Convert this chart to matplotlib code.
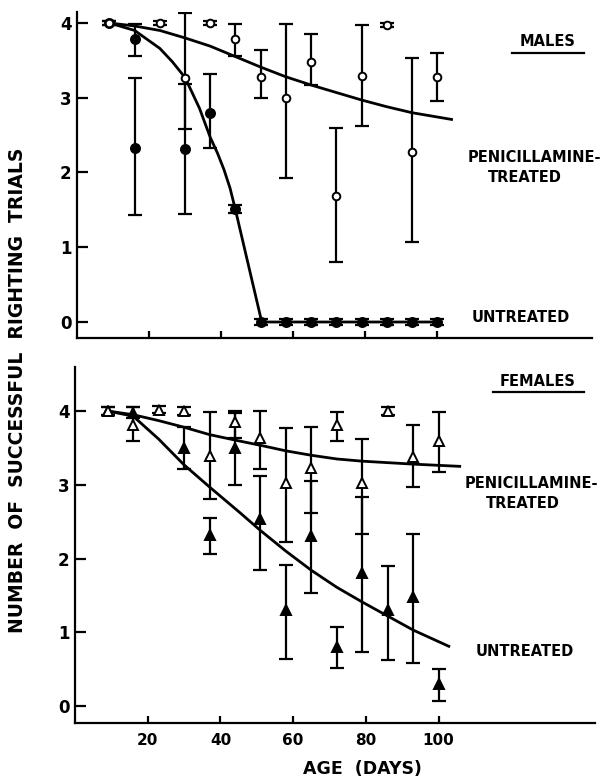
import matplotlib
matplotlib.use("Agg")
import matplotlib.pyplot as plt
import numpy as np
from matplotlib.lines import Line2D

# ---------------- data ----------------
x_ticks = [20, 40, 60, 80, 100]
y_ticks = [0, 1, 2, 3, 4]

# Males, penicillamine-treated (open circles)
m_tr_days = [9, 23, 30, 37, 44, 51, 58, 65, 72, 79, 86, 93, 100]
m_tr_y    = [4.0, 4.0, 3.27, 4.0, 3.78, 3.28, 2.99, 3.48, 1.69, 3.29, 3.97, 2.28, 3.28]
m_tr_hi   = [4.03, 4.03, 4.13, 4.03, 3.99, 3.64, 3.99, 3.85, 2.60, 3.97, 4.00, 3.53, 3.60]
m_tr_lo   = [3.97, 3.97, 2.58, 3.97, 3.56, 2.99, 1.93, 3.17, 0.80, 2.62, 3.94, 1.07, 2.96]

# Males, untreated (filled circles)
m_un_days = [9, 16, 16, 30, 37, 44, 51, 58, 65, 72, 79, 86, 93, 100]
m_un_y    = [4.0, 3.79, 2.33, 2.31, 2.79, 1.51, 0, 0, 0, 0, 0, 0, 0, 0]
m_un_hi   = [4.03, 3.99, 3.27, 3.19, 3.32, 1.56, 0.04, 0.04, 0.04, 0.04, 0.04, 0.04, 0.04, 0.04]
m_un_lo   = [3.97, 3.56, 1.43, 1.45, 2.33, 1.46, -0.04, -0.04, -0.04, -0.04, -0.04, -0.04, -0.04, -0.04]

# Males fitted curves
m_tr_curve_x = [9, 16, 23, 30, 37, 44, 51, 58, 65, 72, 79, 86, 93, 104]
m_tr_curve_y = [4.0, 3.96, 3.9, 3.8, 3.69, 3.55, 3.41, 3.28, 3.17, 3.07, 2.97, 2.88, 2.8, 2.71]
m_un_curve_x = [9, 16, 23, 26.5, 30, 34, 37, 39, 40.8, 42.5, 44, 51.3, 100]
m_un_curve_y = [4.0, 3.9, 3.66, 3.48, 3.27, 2.86, 2.47, 2.26, 2.04, 1.79, 1.5, 0.0, 0.0]

# Females, penicillamine-treated (open triangles)
f_tr_days = [9, 16, 23, 30, 37, 44, 51, 58, 65, 72, 79, 86, 93, 100]
f_tr_y    = [4.0, 3.81, 4.01, 4.0, 3.39, 3.85, 3.63, 3.02, 3.23, 3.81, 3.02, 4.0, 3.38, 3.6]
f_tr_hi   = [4.05, 4.05, 4.07, 4.05, 3.99, 4.0, 4.0, 3.77, 3.78, 3.99, 3.62, 4.05, 3.81, 3.99]
f_tr_lo   = [3.95, 3.6, 3.97, 3.95, 2.81, 3.63, 3.22, 2.22, 2.62, 3.6, 2.33, 3.95, 2.97, 3.17]

# Females, untreated (filled triangles)
f_un_days = [9, 16, 30, 37, 44, 51, 58, 65, 72, 79, 86, 93, 100]
f_un_y    = [4.0, 3.97, 3.5, 2.32, 3.5, 2.54, 1.3, 2.3, 0.8, 1.8, 1.3, 1.48, 0.3]
f_un_hi   = [4.05, 4.05, 3.78, 2.55, 3.98, 3.12, 1.91, 3.05, 1.07, 2.83, 1.9, 2.33, 0.5]
f_un_lo   = [3.95, 3.9, 3.21, 2.06, 3.0, 1.85, 0.64, 1.53, 0.52, 0.73, 0.63, 0.58, 0.07]

# Females fitted curves
f_tr_curve_x = [9, 16, 23, 30, 37, 44.6, 51.5, 58, 65, 72, 79, 93, 105.8]
f_tr_curve_y = [4.0, 3.95, 3.87, 3.78, 3.68, 3.6, 3.53, 3.46, 3.4, 3.35, 3.32, 3.28, 3.25]
f_un_curve_x = [9, 16, 23, 30, 37, 45.4, 51, 58, 65, 72, 79, 86, 93, 102.8]
f_un_curve_y = [4.0, 3.93, 3.62, 3.27, 2.97, 2.62, 2.38, 2.1, 1.84, 1.61, 1.41, 1.22, 1.03, 0.81]

# ---------------- figure ----------------
W, H = 605, 780
fig = plt.figure(figsize=(W / 100, H / 100), dpi=100)
plt.rcParams['font.family'] = ['DejaVu Sans']

def px_axes(left, right, top, bottom):
    return fig.add_axes([left / W, 1 - bottom / H, (right - left) / W, (bottom - top) / H])

ax1 = px_axes(77, 592, 12, 338)
ax2 = px_axes(75, 595, 367, 723)

def style(ax, ylim, xlabels):
    ax.set_xlim(0, 143)
    ax.set_ylim(*ylim)
    for s in ['top', 'right']:
        ax.spines[s].set_visible(False)
    for s in ['left', 'bottom']:
        ax.spines[s].set_linewidth(1.6)
    ax.set_xticks(x_ticks)
    ax.set_yticks(y_ticks)
    ax.set_yticklabels([str(v) for v in y_ticks], fontsize=12, fontweight='bold')
    if xlabels:
        ax.set_xticklabels([str(v) for v in x_ticks], fontsize=11, fontweight='bold')
    else:
        ax.set_xticklabels([])
    ax.tick_params(axis='y', direction='in', length=8, width=1.6, pad=4)
    ax.tick_params(axis='x', direction='in', length=5, width=1.6, pad=7)

style(ax1, (-0.214, 4.147), False)
style(ax2, (-0.23, 4.597), True)

def err(ax, x, y, lo, hi, marker, face, ms):
    y = np.array(y); lo = np.array(lo); hi = np.array(hi)
    ax.errorbar(x, y, yerr=[y - lo, hi - y], fmt='none', ecolor='black',
                elinewidth=1.6, capsize=4.7, capthick=1.6, zorder=3)
    ax.plot(x, y, linestyle='none', marker=marker, markersize=ms,
            markerfacecolor=face, markeredgecolor='black', markeredgewidth=1.4, zorder=4)

# curves
ax1.plot(m_tr_curve_x, m_tr_curve_y, color='black', lw=2.0, zorder=2)
ax1.plot(m_un_curve_x, m_un_curve_y, color='black', lw=2.0, zorder=2)
ax2.plot(f_tr_curve_x, f_tr_curve_y, color='black', lw=2.0, zorder=2)
ax2.plot(f_un_curve_x, f_un_curve_y, color='black', lw=2.0, zorder=2)

err(ax1, m_un_days, m_un_y, m_un_lo, m_un_hi, 'o', 'black', 6.5)
err(ax1, m_tr_days, m_tr_y, m_tr_lo, m_tr_hi, 'o', 'white', 5.5)
err(ax2, f_un_days, f_un_y, f_un_lo, f_un_hi, '^', 'black', 7.5)
err(ax2, f_tr_days, f_tr_y, f_tr_lo, f_tr_hi, '^', 'white', 7.5)

# ---------------- texts ----------------
def ftext(x, y, s, **kw):
    fig.text(x / W, 1 - y / H, s, **kw)

lab = dict(fontsize=10.5, fontweight='bold', ha='center', va='center')
ftext(548, 42, 'MALES', **lab)
fig.add_artist(Line2D([512 / W, 584 / W], [1 - 53 / H, 1 - 53 / H], color='black', lw=1.6))
ftext(534, 157, 'PENICILLAMINE-', **lab)
ftext(525, 178, 'TREATED', **lab)
ftext(521, 317, 'UNTREATED', **lab)

ftext(538, 381, 'FEMALES', **lab)
fig.add_artist(Line2D([493 / W, 584 / W], [1 - 392 / H, 1 - 392 / H], color='black', lw=1.6))
ftext(531, 484, 'PENICILLAMINE-', **lab)
ftext(523, 504, 'TREATED', **lab)
ftext(525, 652, 'UNTREATED', **lab)

ftext(18, 390, 'NUMBER  OF  SUCCESSFUL  RIGHTING  TRIALS', fontsize=13.5,
      fontweight='bold', rotation=90, ha='center', va='center')
ftext(362, 769, 'AGE  (DAYS)', fontsize=12.5, fontweight='bold', ha='center', va='center')

fig.savefig('out.png', dpi=100)
